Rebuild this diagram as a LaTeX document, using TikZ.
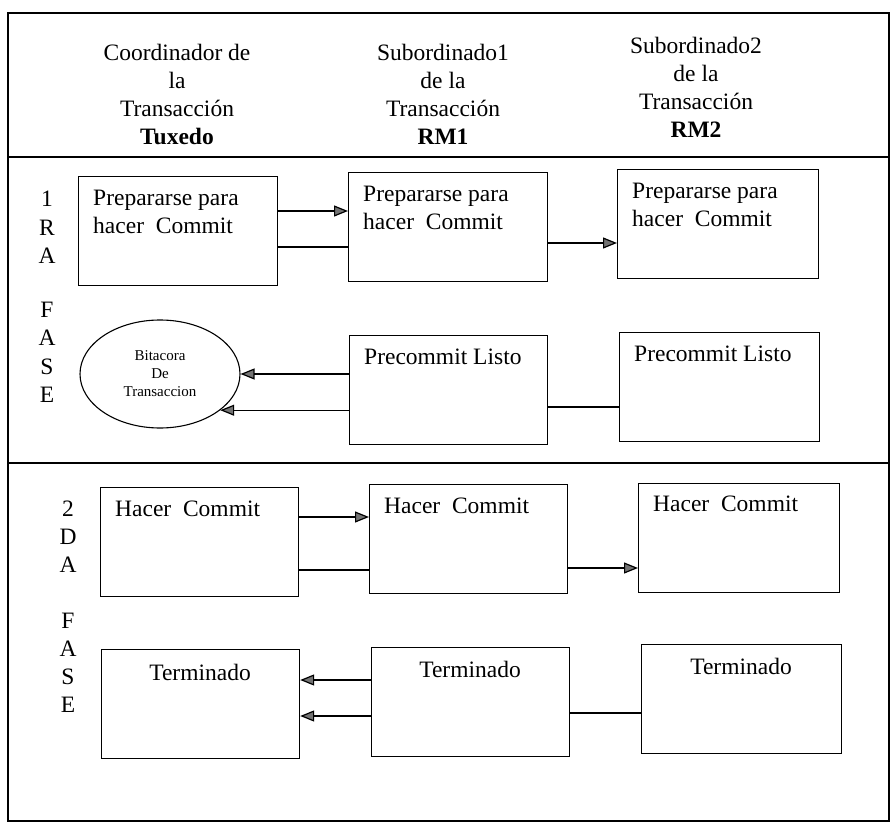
\documentclass[tikz,border=0pt]{standalone}
\usepackage{fontspec}
\setmainfont{Liberation Serif}
\usetikzlibrary{shapes.geometric,arrows.meta}
\begin{document}
\begin{tikzpicture}[x=1pt,y=-1pt,
  box/.style={draw, line width=1.2pt, rectangle, inner sep=0pt, anchor=north west, minimum width=199pt, minimum height=109pt},
  txt/.style={anchor=north west, inner sep=0pt, align=left, font=\fontsize{23.5}{28}\selectfont},
  ctxt/.style={anchor=north, inner sep=0pt, align=center, font=\fontsize{23.5}{28}\selectfont},
  hdr/.style={anchor=north, align=center, inner sep=0pt, font=\fontsize{23.5}{28}\selectfont},
  arr/.style={line width=1.2pt, -{Triangle[length=14pt,width=11pt,fill=black!55]}},
  ln/.style={line width=1.2pt}]
\useasboundingbox (0,0) rectangle (895,824);
% frame and dividers
\draw[line width=1.2pt] (8,13) rectangle (889,821);
\draw[line width=1.2pt] (8,157) -- (889,157);
\draw[line width=1.2pt] (8,463) -- (889,463);
% headers
\node[hdr] (h1) at (177,44) {Coordinador de\\la\\Transacción\\\textbf{Tuxedo}};
\node[hdr] (h2) at (443,44) {Subordinado1\\de la\\Transacción\\\textbf{RM1}};
\node[hdr] (h3) at (696,37) {Subordinado2\\de la\\Transacción\\\textbf{RM2}};
% phase labels
\node[hdr, font=\fontsize{23.5}{28.5}\selectfont] (p1) at (47,191) {1\\R\\A\\[25pt]F\\A\\S\\E};
\node[hdr] (p2) at (68,501) {2\\D\\A\\[28pt]F\\A\\S\\E};
% phase 1 boxes
\node[box] (A1) at (78,176) {};
\node[box] (B1) at (348,172) {};
\node[box, minimum width=201pt] (C1) at (617,169) {};
\node[box, minimum width=198pt] (B2) at (349,335) {};
\node[box, minimum width=200pt] (C2) at (619,332) {};
\node[draw, ellipse, line width=1.1pt, minimum width=160pt, minimum height=108pt, inner sep=0pt,
      align=center, font=\fontsize{15}{18}\selectfont] (bit) at (160,374) {Bitacora\\De\\Transaccion};
\node[txt] (tA1) at (93,190) {Prepararse para\\hacer~ Commit};
\node[txt] (tB1) at (363,186) {Prepararse para\\hacer~ Commit};
\node[txt] (tC1) at (632,183) {Prepararse para\\hacer~ Commit};
\node[txt] (tB2) at (364,349) {Precommit Listo};
\node[txt] (tC2) at (634,346) {Precommit Listo};
% phase 2 boxes
\node[box, minimum width=198pt] (A3) at (100,487) {};
\node[box, minimum width=198pt] (B3) at (369,484) {};
\node[box, minimum width=201pt] (C3) at (638,483) {};
\node[box, minimum width=198pt] (A4) at (101,649) {};
\node[box, minimum width=198pt] (B4) at (371,647) {};
\node[box, minimum width=200pt] (C4) at (641,644) {};
\node[txt] (tA3) at (115,501) {Hacer~ Commit};
\node[txt] (tB3) at (384,498) {Hacer~ Commit};
\node[txt] (tC3) at (653,496) {Hacer~ Commit};
\node[ctxt] (tA4) at (200,664) {Terminado};
\node[ctxt] (tB4) at (470,661) {Terminado};
\node[ctxt] (tC4) at (741,658) {Terminado};
% connectors phase 1
\draw[arr] (A1.east |- 0,211) -- (B1.west |- 0,211);
\draw[ln] (A1.east |- 0,247) -- (B1.west |- 0,247);
\draw[arr] (B1.east |- 0,243) -- (C1.west |- 0,243);
\draw[arr] (B2.west |- bit.east) -- (bit.east);
\draw[arr] (B2.west |- bit.-31) -- (bit.-31);
\draw[ln] (C2.west |- 0,407) -- (B2.east |- 0,407);
% connectors phase 2
\draw[arr] (A3.east |- 0,517) -- (B3.west |- 0,517);
\draw[ln] (A3.east |- 0,570) -- (B3.west |- 0,570);
\draw[arr] (B3.east |- 0,568) -- (C3.west |- 0,568);
\draw[arr] (B4.west |- 0,680) -- (A4.east |- 0,680);
\draw[arr] (B4.west |- 0,716) -- (A4.east |- 0,716);
\draw[ln] (C4.west |- 0,713) -- (B4.east |- 0,713);
\end{tikzpicture}
\end{document}
